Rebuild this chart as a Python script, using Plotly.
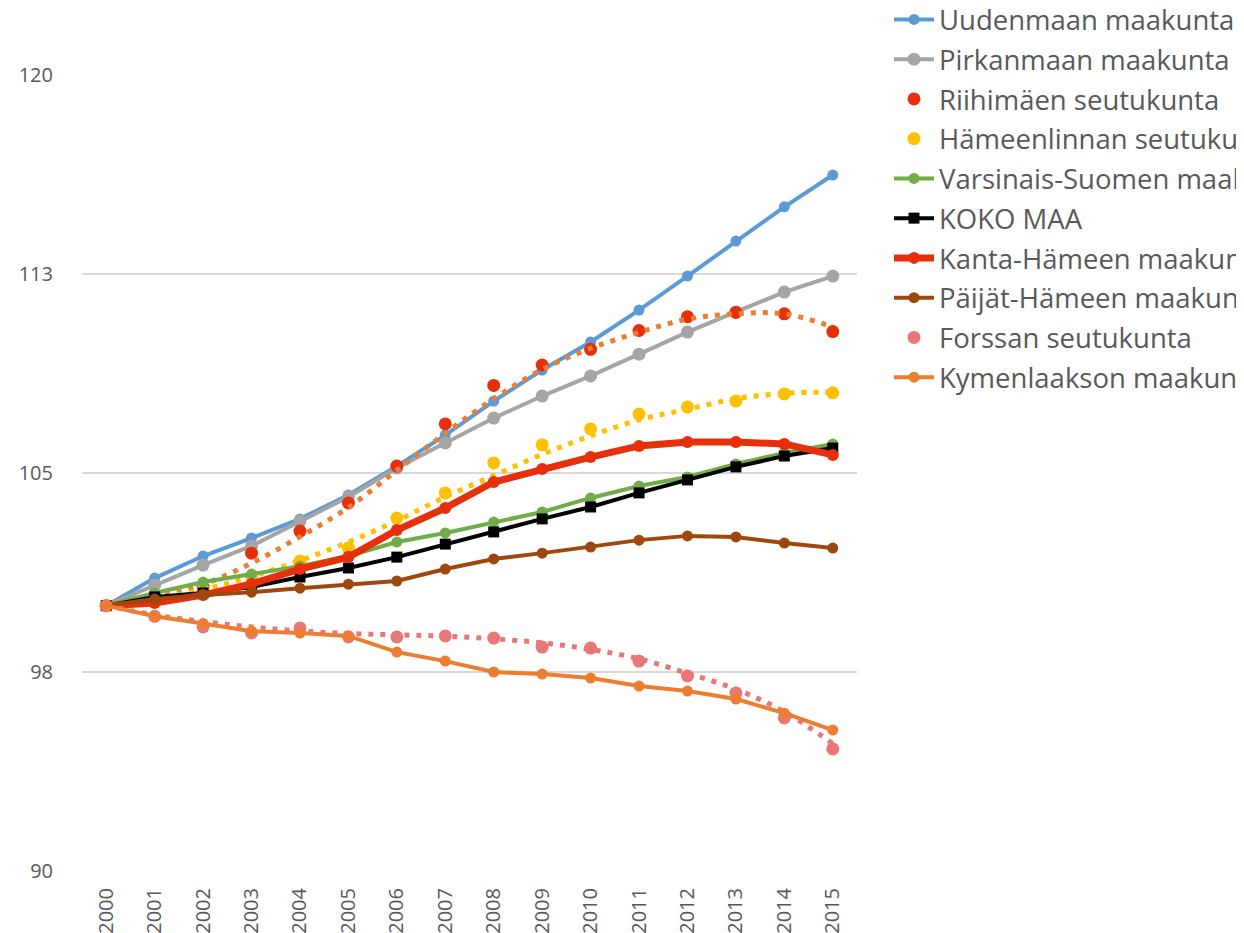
import plotly.graph_objects as go

years = [str(y) for y in range(2000, 2016)]

uusimaa = [100.0, 101.04, 101.87, 102.55, 103.27, 104.17, 105.26, 106.43, 107.71, 108.88, 109.94, 111.14, 112.42, 113.74, 115.03, 116.23]
pirkanmaa = [100.0, 100.78, 101.53, 102.25, 103.19, 104.10, 105.19, 106.13, 107.07, 107.90, 108.66, 109.48, 110.31, 111.07, 111.82, 112.42]
riihimaki = [100.0, 100.36, 100.70, 101.98, 102.81, 103.87, 105.26, 106.85, 108.30, 109.07, 109.66, 110.37, 110.89, 111.05, 111.00, 110.33]
riihimaki_trend = [100.0, 100.3, 100.8, 101.6, 102.6, 103.7, 105.1, 106.5, 107.8, 108.9, 109.7, 110.3, 110.8, 111.0, 111.0, 110.5]
hameenlinna = [100.0, 100.18, 100.60, 101.08, 101.68, 102.17, 103.30, 104.25, 105.38, 106.06, 106.66, 107.22, 107.49, 107.71, 107.98, 108.02]
hameenlinna_trend = [100.0, 100.25, 100.6, 101.1, 101.7, 102.4, 103.2, 104.1, 104.9, 105.7, 106.4, 107.0, 107.4, 107.8, 108.0, 108.05]
varsinais = [100.0, 100.48, 100.89, 101.19, 101.49, 101.87, 102.40, 102.74, 103.15, 103.53, 104.06, 104.51, 104.85, 105.34, 105.75, 106.09]
koko_maa = [100.0, 100.33, 100.48, 100.70, 101.08, 101.42, 101.83, 102.32, 102.78, 103.27, 103.72, 104.25, 104.74, 105.23, 105.64, 105.94]
kanta_hame = [100.0, 100.10, 100.40, 100.82, 101.38, 101.83, 102.85, 103.68, 104.66, 105.15, 105.60, 106.02, 106.17, 106.17, 106.09, 105.68]
paijat_hame = [100.0, 100.25, 100.40, 100.51, 100.66, 100.81, 100.93, 101.38, 101.76, 101.98, 102.21, 102.47, 102.63, 102.59, 102.36, 102.17]
forssa = [100.0, 99.60, 99.20, 98.97, 99.16, 98.82, 98.82, 98.86, 98.78, 98.44, 98.40, 97.91, 97.35, 96.71, 95.77, 94.60]
forssa_trend = [100.0, 99.65, 99.4, 99.2, 99.05, 98.95, 98.9, 98.85, 98.75, 98.6, 98.35, 98.0, 97.45, 96.85, 96.0, 94.8]
kymenlaakso = [100.0, 99.60, 99.33, 99.04, 98.97, 98.86, 98.25, 97.91, 97.50, 97.42, 97.27, 96.97, 96.78, 96.48, 95.95, 95.31]

y_tickvals = [90, 97.5, 105, 112.5, 120]
y_ticktext = ["90", "98", "105", "113", "120"]

RED = "#E5300B"
fig = go.Figure()

def line_trace(name, vals, color, width=4, msize=11, symbol="circle"):
    fig.add_trace(go.Scatter(
        x=years, y=vals, name=name, mode="lines+markers", legendgroup=name,
        line=dict(color=color, width=width),
        marker=dict(color=color, size=msize, symbol=symbol),
    ))

def dot_trace(name, vals, trend, color, trend_color):
    fig.add_trace(go.Scatter(
        x=years, y=vals, name=name, mode="markers", legendgroup=name,
        marker=dict(color=color, size=13),
    ))
    fig.add_trace(go.Scatter(
        x=years, y=trend, mode="lines", showlegend=False, hoverinfo="skip",
        line=dict(color=trend_color, width=5, dash="5px,7px", shape="spline"),
    ))

line_trace("Uudenmaan maakunta", uusimaa, "#5B9BD5")
line_trace("Pirkanmaan maakunta", pirkanmaa, "#A5A5A5", msize=13)
dot_trace("Riihimäen seutukunta", riihimaki, riihimaki_trend, RED, "#ED7D31")
dot_trace("Hämeenlinnan seutukunta", hameenlinna, hameenlinna_trend, "#FFC000", "#FFC000")
line_trace("Varsinais-Suomen maakunta", varsinais, "#70AD47")
line_trace("KOKO MAA", koko_maa, "#000000", msize=11, symbol="square")
line_trace("Kanta-Hämeen maakunta", kanta_hame, RED, width=7, msize=12)
line_trace("Päijät-Hämeen maakunta", paijat_hame, "#9E480E")
dot_trace("Forssan seutukunta", forssa, forssa_trend, "#E97777", "#E97777")
line_trace("Kymenlaakson maakunta", kymenlaakso, "#ED7D31")

fig.update_layout(
    width=1244, height=933, autosize=False,
    margin=dict(l=74, r=395, t=67, b=70, autoexpand=False),
    plot_bgcolor="white", paper_bgcolor="white",
    font=dict(family="Open Sans", color="#595959"),
    showlegend=True,
    legend=dict(
        xref="paper", yref="paper", x=1.0413, y=1.1005,
        xanchor="left", yanchor="top",
        font=dict(size=27.5, color="#595959"),
        tracegroupgap=1, itemwidth=40,
        bgcolor="rgba(0,0,0,0)",
    ),
    xaxis=dict(
        type="category", range=[-0.5, 15.5], showgrid=False,
        showline=False, zeroline=False, automargin=False,
        tickangle=-90, tickfont=dict(size=20, color="#595959"),
        ticks="outside", ticklen=8, tickcolor="rgba(0,0,0,0)",
    ),
    yaxis=dict(
        range=[90, 120], tickvals=y_tickvals, ticktext=y_ticktext,
        showgrid=True, gridcolor="#D9D9D9", gridwidth=2,
        zeroline=False, showline=False, automargin=False,
        tickfont=dict(size=20, color="#595959"),
        ticks="outside", ticklen=24, tickcolor="rgba(0,0,0,0)",
    ),
)

fig.write_html("out.html")
